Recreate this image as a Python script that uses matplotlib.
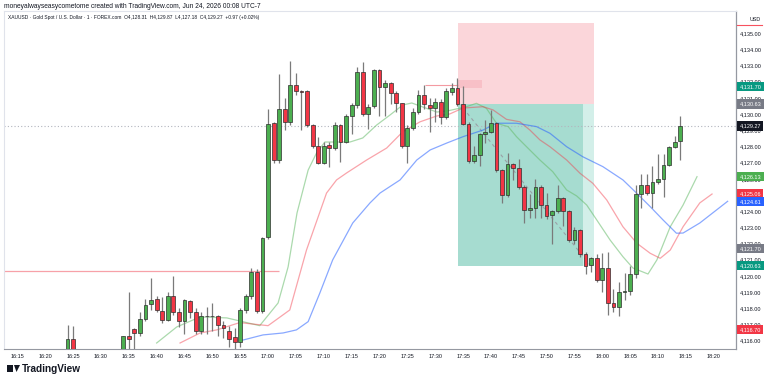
import matplotlib
matplotlib.use("Agg")
import matplotlib.pyplot as plt
from matplotlib.patches import Rectangle, Polygon

plt.rcParams['font.family'] = ['Liberation Sans', 'DejaVu Sans']

# candles: minutes after 16:15, open, high, low, close
minutos = [9, 10] + list(range(19, 120))
aberturas = [4115.0, 4116.1,
             4115.0, 4116.3, 4116.7, 4116.5, 4117.35, 4118.25, 4118.6, 4117.85, 4117.3, 4118.77,
             4117.8, 4117.2, 4118.45, 4117.8, 4116.6, 4117.55, 4117.5, 4117.55, 4117.0, 4116.6,
             4116.25, 4115.95, 4117.9, 4118.77, 4120.27, 4117.84, 4122.4, 4129.45, 4127.16, 4130.3,
             4129.5, 4131.8, 4131.4, 4131.4, 4129.3, 4128.0, 4127.0, 4128.1, 4127.9, 4129.3,
             4128.3, 4129.9, 4130.55, 4132.6, 4130.0, 4130.5, 4132.7, 4131.65, 4131.9, 4131.3,
             4130.65, 4128.0, 4129.15, 4130.15, 4131.2, 4130.55, 4130.4, 4130.75, 4129.8, 4131.35,
             4131.6, 4130.6, 4129.4, 4127.1, 4127.45, 4128.75, 4128.9, 4129.45, 4126.55, 4125.0,
             4126.9, 4126.65, 4125.5, 4124.1, 4124.2, 4125.5, 4124.4, 4123.75, 4124.0, 4124.8,
             4124.0, 4122.2, 4122.85, 4121.35, 4120.65, 4121.1, 4119.75, 4120.5, 4118.3, 4118.1,
             4119.0, 4119.05, 4120.1, 4125.05, 4125.6, 4125.1, 4125.8, 4126.0, 4126.85, 4127.95,
             4128.31]
maximas = [4117.0, 4116.9,
           4116.3, 4119.0, 4116.8, 4117.8, 4118.6, 4119.9, 4118.75, 4118.7, 4119.0, 4120.0,
           4118.0, 4118.6, 4118.5, 4118.0, 4117.75, 4118.1, 4118.3, 4117.6, 4117.2, 4116.9,
           4116.8, 4118.0, 4118.9, 4120.5, 4120.4, 4122.4, 4130.3, 4129.5, 4132.5, 4131.0,
           4133.3, 4132.55, 4131.5, 4131.5, 4129.4, 4128.6, 4128.3, 4128.3, 4129.5, 4129.4,
           4130.0, 4130.7, 4132.9, 4133.2, 4130.6, 4132.8, 4132.8, 4132.1, 4132.0, 4131.4,
           4130.7, 4129.3, 4130.4, 4131.5, 4131.8, 4131.0, 4130.97, 4130.9, 4131.6, 4131.9,
           4132.2, 4131.7, 4129.5, 4128.0, 4128.8, 4129.6, 4130.25, 4129.5, 4126.6, 4127.6,
           4127.0, 4127.2, 4125.6, 4125.05, 4126.0, 4125.6, 4125.1, 4124.1, 4125.6, 4124.9,
           4124.1, 4123.0, 4122.9, 4121.5, 4121.2, 4121.35, 4121.4, 4121.45, 4119.2, 4119.6,
           4120.2, 4120.6, 4125.6, 4126.3, 4126.3, 4126.8, 4127.5, 4127.55, 4128.0, 4128.65,
           4129.87]
minimas = [4115.0, 4114.9,
           4114.9, 4115.3, 4115.4, 4116.3, 4117.2, 4117.9, 4117.8, 4117.1, 4117.2, 4117.6,
           4116.85, 4116.4, 4117.4, 4116.4, 4116.4, 4116.4, 4116.6, 4116.3, 4116.2, 4115.6,
           4115.3, 4115.6, 4117.7, 4118.6, 4117.7, 4117.7, 4122.3, 4127.0, 4127.0, 4129.0,
           4129.3, 4131.2, 4129.0, 4129.2, 4127.9, 4126.9, 4126.9, 4126.7, 4127.8, 4127.05,
           4128.2, 4128.77, 4130.4, 4129.9, 4129.05, 4130.4, 4129.9, 4129.9, 4130.6, 4130.1,
           4127.9, 4127.0, 4129.0, 4130.0, 4130.3, 4128.9, 4129.5, 4129.4, 4129.7, 4131.2,
           4130.5, 4129.3, 4127.0, 4127.0, 4126.8, 4128.2, 4128.8, 4126.4, 4124.5, 4124.9,
           4125.9, 4125.4, 4123.3, 4123.6, 4123.6, 4123.6, 4123.5, 4122.0, 4123.9, 4123.1,
           4122.1, 4122.0, 4121.2, 4120.1, 4120.25, 4119.6, 4119.0, 4117.6, 4117.8, 4117.5,
           4118.5, 4118.8, 4119.9, 4124.2, 4125.0, 4124.2, 4125.7, 4124.9, 4126.8, 4127.9,
           4127.18]
fechamentos = [4116.1, 4115.0,
               4116.3, 4116.1, 4116.5, 4117.35, 4118.2, 4118.5, 4117.9, 4117.3, 4118.77, 4117.8,
               4117.2, 4118.5, 4117.8, 4116.6, 4117.55, 4117.5, 4117.55, 4117.0, 4116.8, 4116.1,
               4115.9, 4117.9, 4118.77, 4120.27, 4117.84, 4122.35, 4129.4, 4127.16, 4130.3, 4129.5,
               4131.8, 4131.4, 4131.35, 4129.3, 4128.0, 4127.0, 4128.05, 4127.9, 4129.3, 4128.3,
               4129.9, 4130.55, 4132.6, 4130.0, 4130.45, 4132.7, 4131.65, 4131.9, 4131.3, 4130.65,
               4128.0, 4129.15, 4130.15, 4131.2, 4130.6, 4130.4, 4130.75, 4129.8, 4131.4, 4131.6,
               4130.6, 4129.4, 4127.1, 4127.45, 4128.75, 4128.9, 4129.45, 4126.55, 4125.0, 4126.9,
               4126.65, 4125.5, 4124.1, 4124.2, 4125.5, 4124.4, 4123.7, 4124.0, 4124.8, 4124.0,
               4122.2, 4122.85, 4121.35, 4120.6, 4121.1, 4119.75, 4120.5, 4118.3, 4118.1, 4119.0,
               4119.05, 4120.1, 4125.05, 4125.6, 4125.1, 4125.8, 4126.0, 4126.85, 4127.95, 4128.3,
               4129.27]

# alligator lines
verde_x = [25.0, 28.6, 32.8, 37.6, 43.5, 46.8, 48.6, 50.2, 52.2, 53.7, 55.2, 59.7, 62.0, 64.5,
           66.9, 69.2, 70.8, 72.8, 75.3, 77.6, 80.6, 82.4, 84.2, 86.0, 88.1, 89.6, 91.4, 93.8,
           96.1, 98.6, 100.4, 102.2, 104.0, 106.4, 108.7, 110.5, 113.2, 114.8, 117.2, 119.5, 122.0]
verde_y = [4115.86, 4116.85, 4117.47, 4117.41, 4116.93, 4118.33, 4120.56, 4123.89, 4126.54,
           4127.59, 4128.27, 4128.27, 4128.52, 4129.32, 4129.94, 4130.56, 4130.68, 4130.43,
           4130.12, 4130.22, 4130.45, 4130.66, 4130.35, 4129.43, 4129.22, 4128.60, 4127.98,
           4127.16, 4126.44, 4125.31, 4124.94, 4124.38, 4123.46, 4122.22, 4121.19, 4120.49,
           4120.12, 4120.99, 4123.04, 4124.38, 4126.13]
vermelho_x = [29.2, 32.8, 35.8, 39.9, 45.0, 48.9, 51.9, 55.5, 57.3, 59.1, 62.7, 66.3, 69.2,
              72.3, 75.3, 77.6, 80.0, 83.6, 85.4, 87.8, 90.2, 92.0, 93.8, 95.6, 98.6, 101.0,
              103.3, 105.8, 108.7, 111.2, 113.6, 115.4, 117.2, 119.5, 122.5, 124.7]
vermelho_y = [4115.86, 4116.48, 4116.67, 4117.12, 4116.93, 4117.90, 4121.60, 4125.12, 4125.93,
              4126.36, 4127.16, 4127.90, 4128.91, 4129.52, 4129.88, 4130.00, 4130.37, 4130.45,
              4130.25, 4129.67, 4129.52, 4129.01, 4128.40, 4127.98, 4127.16, 4126.34, 4125.72,
              4124.69, 4123.04, 4122.02, 4121.40, 4121.09, 4121.60, 4123.04, 4124.51, 4125.06]
azul_x = [39.9, 44.1, 47.7, 50.1, 52.2, 54.3, 56.6, 60.2, 63.3, 65.1, 68.7, 71.7, 74.1, 77.1,
          80.0, 83.6, 86.0, 89.6, 93.2, 95.6, 98.6, 101.5, 105.1, 108.7, 111.2, 113.6, 115.9,
          118.3, 119.5, 122.5, 127.5]
azul_y = [4115.99, 4116.36, 4116.48, 4116.67, 4117.18, 4118.95, 4120.99, 4123.27, 4124.51,
          4125.12, 4125.93, 4127.16, 4127.78, 4128.21, 4128.60, 4129.01, 4129.43, 4129.43,
          4129.22, 4128.81, 4127.98, 4127.36, 4126.75, 4125.93, 4125.10, 4124.28, 4123.46,
          4122.64, 4122.65, 4123.27, 4124.61]

# short position tool
pos_inicio, pos_fim = 79.1, 103.5
entrada, stop, alvo = 4130.63, 4135.62, 4120.63
trilha_x = [80.0, 102.8]
trilha_y = [4130.37, 4120.68]

# other drawings
linha_hor = 4120.3
linha_hor_fim = 46.9
caixa_rosa_x = [79.1, 83.4]
caixa_rosa_y = [4131.6, 4132.1]
linha_curta_x = [73.2, 79.1]
linha_curta_y = 4131.79

# price-scale tags
tags_valor = [4131.70, 4130.63, 4129.27, 4126.13, 4125.06, 4124.61, 4121.70, 4120.63, 4116.70]
tags_cor = ['#089981', '#787b86', '#131722', '#4caf50', '#f23645', '#2962ff', '#787b86',
            '#089981', '#f23645']

horarios = ['16:15', '16:20', '16:25', '16:30', '16:35', '16:40', '16:45', '16:50', '16:55',
            '17:00', '17:05', '17:10', '17:15', '17:20', '17:25', '17:30', '17:35', '17:40',
            '17:45', '17:50', '17:55', '18:00', '18:05', '18:10', '18:15', '18:20']
precos_eixo = list(range(4116, 4136))

fig = plt.figure(figsize=(7.68, 3.80), dpi=100)
ax = fig.add_axes([4 / 768, 31 / 380, 732 / 768, 338 / 380])
ax.set_xlim(-2.4, 129.0)
ax.set_ylim(4115.49, 4136.36)

# position zones
ax.add_patch(Rectangle((pos_inicio, entrada), pos_fim - pos_inicio, stop - entrada,
                       facecolor='#fbd6da', edgecolor='none', zorder=1))
ax.add_patch(Rectangle((pos_inicio, alvo), pos_fim - pos_inicio, entrada - alvo,
                       facecolor='#a6dcd0', edgecolor='none', zorder=1))
ax.add_patch(Rectangle((pos_fim - 1.9, alvo), 1.9, entrada - alvo,
                       facecolor='#d3efe9', edgecolor='none', zorder=1))
ax.add_patch(Rectangle((caixa_rosa_x[0], caixa_rosa_y[0]), caixa_rosa_x[1] - caixa_rosa_x[0],
                       caixa_rosa_y[1] - caixa_rosa_y[0], facecolor='#f7b8bf', edgecolor='none',
                       alpha=0.7, zorder=1))
ax.plot(trilha_x, trilha_y, color='#9aa0a6', lw=0.8, ls=(0, (3, 3)), zorder=2)
ax.hlines(linha_hor, -2.4, linha_hor_fim, color='#f7a1a8', lw=0.9, zorder=2)
ax.hlines(linha_curta_y, linha_curta_x[0], linha_curta_x[1], color='#f49aa2', lw=0.8, zorder=2)
ax.axhline(fechamentos[-1], color='#b2b5be', lw=0.8, ls=(0, (1, 2)), zorder=2)

# alligator
ax.plot(verde_x, verde_y, color='#66bb6a', lw=0.9, alpha=0.55, zorder=2)
ax.plot(vermelho_x, vermelho_y, color='#f23645', lw=0.9, alpha=0.45, zorder=2)
ax.plot(azul_x, azul_y, color='#2962ff', lw=0.9, alpha=0.55, zorder=2)

# candles
cores = ['#4caf50' if c >= o else '#f23645' for o, c in zip(aberturas, fechamentos)]
ax.vlines(minutos, minimas, maximas, color='#7a7a7a', lw=0.9, zorder=3)
base = [min(o, c) for o, c in zip(aberturas, fechamentos)]
altura = [max(abs(c - o), 0.05) for o, c in zip(aberturas, fechamentos)]
ax.bar(minutos, altura, bottom=base, width=0.68, color=cores, edgecolor='#2e2e2e',
       linewidth=0.5, zorder=4)

# axes styling
for lado in ['top', 'left', 'bottom']:
    ax.spines[lado].set_color('#e0e3eb')
    ax.spines[lado].set_linewidth(0.8)
ax.spines['right'].set_color('#9598a1')
ax.spines['right'].set_linewidth(0.9)
ax.spines['bottom'].set_color('#9598a1')

ax.set_xticks(range(0, 126, 5))
ax.set_xticklabels(horarios)
ax.yaxis.tick_right()
ax.set_yticks(precos_eixo)
ax.set_yticklabels([f'{p:,.2f}' for p in precos_eixo])
ax.tick_params(axis='both', length=0, labelsize=4.0, colors='#131722')
ax.tick_params(axis='x', pad=3.5)
ax.tick_params(axis='y', pad=3)

trans = ax.get_yaxis_transform()
for v, cor in zip(tags_valor, tags_cor):
    ax.text(1.005, v, f'{v:,.2f}', transform=trans, ha='left', va='center', fontsize=4.0,
            color='white', zorder=6, clip_on=False,
            bbox=dict(boxstyle='square,pad=0.4', facecolor=cor, edgecolor='none'))

ax.text(1.018, 0.975, 'USD', transform=ax.transAxes, fontsize=3.9, color='#131722',
        ha='left', va='center', clip_on=False)
fig.add_artist(plt.Line2D([737 / 768, 762 / 768], [1 - 25 / 380, 1 - 25 / 380],
                          color='#f7525f', lw=0.8))

fig.text(4 / 768, 1 - 6 / 380,
         'moneyalwayseasycometome created with TradingView.com, Jun 24, 2026 00:08 UTC-7',
         fontsize=4.75, color='#131722', va='center', ha='left')
fig.text(8 / 768, 1 - 17 / 380,
         'XAUUSD · Gold Spot / U.S. Dollar · 1 · FOREX.com  O4,128.31  H4,129.87  '
         'L4,127.18  C4,129.27  +0.97 (+0.02%)',
         fontsize=3.5, color='#131722', va='center', ha='left')

# TradingView logo
fig.add_artist(Rectangle((7 / 768, 1 - 372 / 380), 6 / 768, 7 / 380, facecolor='#131722',
                         edgecolor='none'))
fig.add_artist(Polygon([[14 / 768, 1 - 365 / 380], [20 / 768, 1 - 365 / 380],
                        [16.5 / 768, 1 - 372 / 380]], facecolor='#131722', edgecolor='none'))
fig.text(22 / 768, 1 - 368.5 / 380, 'TradingView', fontsize=7.2, fontweight='bold',
         color='#131722', va='center', ha='left')

fig.savefig('out.png', dpi=100, facecolor='white')
